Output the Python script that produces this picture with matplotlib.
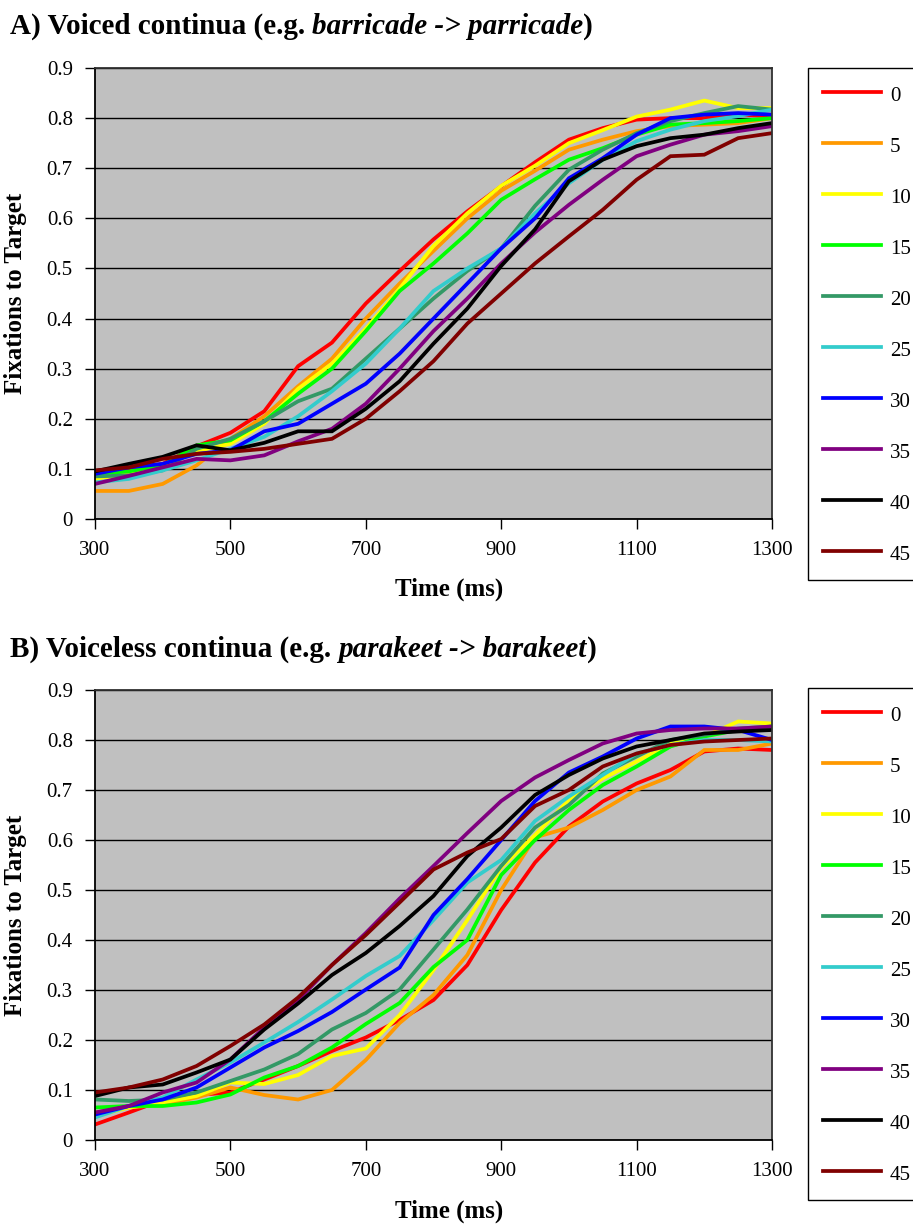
import matplotlib
matplotlib.use("Agg")
import matplotlib.pyplot as plt
from matplotlib.lines import Line2D

# ---------------- data ----------------
time_ms = [300, 350, 400, 450, 500, 550, 600, 650, 700, 750, 800,
           850, 900, 950, 1000, 1050, 1100, 1150, 1200, 1250, 1300]
series_labels = ["0", "5", "10", "15", "20", "25", "30", "35", "40", "45"]
x_ticks = [300, 500, 700, 900, 1100, 1300]
y_ticks = [0, 0.1, 0.2, 0.3, 0.4, 0.5, 0.6, 0.7, 0.8, 0.9]
y_tick_labels = ["0", "0.1", "0.2", "0.3", "0.4", "0.5", "0.6", "0.7", "0.8", "0.9"]

# Panel A: voiced continua
a_vot0 = [0.09, 0.10, 0.11, 0.145, 0.172, 0.215, 0.305, 0.352, 0.43, 0.495, 0.558,
          0.614, 0.664, 0.712, 0.757, 0.78, 0.797, 0.80, 0.80, 0.807, 0.804]
a_vot5 = [0.056, 0.056, 0.07, 0.107, 0.16, 0.205, 0.265, 0.32, 0.40, 0.47, 0.535,
          0.60, 0.655, 0.695, 0.737, 0.757, 0.774, 0.784, 0.787, 0.79, 0.80]
a_vot10 = [0.08, 0.09, 0.105, 0.135, 0.15, 0.19, 0.26, 0.31, 0.38, 0.46, 0.545,
           0.61, 0.665, 0.705, 0.75, 0.776, 0.803, 0.817, 0.835, 0.82, 0.82]
a_vot15 = [0.09, 0.095, 0.107, 0.147, 0.157, 0.195, 0.25, 0.30, 0.375, 0.455, 0.51,
           0.57, 0.637, 0.678, 0.717, 0.74, 0.767, 0.787, 0.79, 0.794, 0.80]
a_vot20 = [0.085, 0.087, 0.097, 0.14, 0.16, 0.195, 0.235, 0.26, 0.32, 0.38, 0.44,
           0.495, 0.54, 0.625, 0.697, 0.737, 0.77, 0.794, 0.81, 0.824, 0.817]
a_vot25 = [0.073, 0.08, 0.097, 0.117, 0.14, 0.164, 0.205, 0.255, 0.31, 0.38, 0.455,
           0.50, 0.54, 0.61, 0.67, 0.717, 0.754, 0.777, 0.794, 0.804, 0.817]
a_vot30 = [0.09, 0.103, 0.11, 0.13, 0.137, 0.175, 0.19, 0.23, 0.27, 0.33, 0.40,
           0.47, 0.54, 0.60, 0.68, 0.72, 0.767, 0.80, 0.807, 0.81, 0.807]
a_vot35 = [0.07, 0.086, 0.103, 0.12, 0.117, 0.127, 0.155, 0.18, 0.23, 0.30, 0.375,
           0.44, 0.51, 0.572, 0.627, 0.677, 0.724, 0.747, 0.767, 0.774, 0.784]
a_vot40 = [0.095, 0.11, 0.124, 0.147, 0.137, 0.152, 0.175, 0.175, 0.22, 0.275, 0.35,
           0.42, 0.505, 0.578, 0.674, 0.717, 0.744, 0.76, 0.767, 0.78, 0.79]
a_vot45 = [0.097, 0.103, 0.12, 0.13, 0.134, 0.14, 0.15, 0.16, 0.20, 0.255, 0.315,
           0.39, 0.45, 0.51, 0.564, 0.617, 0.677, 0.724, 0.727, 0.76, 0.77]

# Panel B: voiceless continua
b_vot0 = [0.031, 0.055, 0.08, 0.09, 0.095, 0.121, 0.148, 0.178, 0.205, 0.24, 0.28,
          0.35, 0.46, 0.555, 0.627, 0.677, 0.713, 0.74, 0.777, 0.783, 0.78]
b_vot5 = [0.055, 0.065, 0.071, 0.085, 0.105, 0.09, 0.081, 0.10, 0.16, 0.234, 0.29,
          0.37, 0.50, 0.605, 0.625, 0.66, 0.70, 0.727, 0.78, 0.78, 0.793]
b_vot10 = [0.048, 0.065, 0.075, 0.088, 0.115, 0.112, 0.13, 0.168, 0.183, 0.25, 0.34,
           0.44, 0.545, 0.61, 0.68, 0.723, 0.757, 0.793, 0.807, 0.837, 0.833]
b_vot15 = [0.065, 0.068, 0.068, 0.075, 0.091, 0.125, 0.148, 0.185, 0.232, 0.274, 0.346,
           0.40, 0.53, 0.60, 0.66, 0.71, 0.747, 0.787, 0.807, 0.82, 0.827]
b_vot20 = [0.081, 0.078, 0.081, 0.095, 0.118, 0.141, 0.172, 0.221, 0.254, 0.301, 0.381,
           0.461, 0.548, 0.625, 0.67, 0.733, 0.767, 0.80, 0.81, 0.823, 0.827]
b_vot25 = [0.045, 0.068, 0.085, 0.121, 0.155, 0.195, 0.236, 0.281, 0.328, 0.368, 0.44,
           0.515, 0.56, 0.638, 0.687, 0.73, 0.773, 0.79, 0.80, 0.80, 0.797]
b_vot30 = [0.051, 0.068, 0.081, 0.105, 0.145, 0.185, 0.218, 0.256, 0.301, 0.345, 0.45,
           0.522, 0.60, 0.678, 0.735, 0.767, 0.803, 0.827, 0.827, 0.82, 0.80]
b_vot35 = [0.055, 0.068, 0.095, 0.115, 0.161, 0.225, 0.28, 0.35, 0.414, 0.483, 0.548,
           0.614, 0.678, 0.725, 0.76, 0.793, 0.813, 0.82, 0.823, 0.823, 0.827]
b_vot40 = [0.088, 0.105, 0.111, 0.135, 0.161, 0.221, 0.273, 0.33, 0.374, 0.428, 0.488,
           0.568, 0.625, 0.69, 0.73, 0.763, 0.787, 0.80, 0.813, 0.817, 0.82]
b_vot45 = [0.095, 0.105, 0.121, 0.148, 0.188, 0.231, 0.285, 0.35, 0.41, 0.475, 0.541,
           0.575, 0.602, 0.668, 0.70, 0.747, 0.773, 0.79, 0.797, 0.80, 0.803]

panel_a = [a_vot0, a_vot5, a_vot10, a_vot15, a_vot20, a_vot25, a_vot30, a_vot35, a_vot40, a_vot45]
panel_b = [b_vot0, b_vot5, b_vot10, b_vot15, b_vot20, b_vot25, b_vot30, b_vot35, b_vot40, b_vot45]

# ---------------- style ----------------
colors = ["#FF0000", "#FF9900", "#FFFF00", "#00FF00", "#339966",
          "#33CCCC", "#0000FF", "#800080", "#000000", "#800000"]
SERIF = ["Liberation Serif", "DejaVu Serif"]
LW = 2.7
W, H = 913, 1227
fig = plt.figure(figsize=(W / 100, H / 100), dpi=100)
fig.patch.set_facecolor("white")


def px_box(left, top, right, bottom):
    return [left / W, 1 - bottom / H, (right - left) / W, (bottom - top) / H]


def draw_title(y_base, parts, size=21):
    renderer = fig.canvas.get_renderer()
    x = 10.0
    probe = fig.text(0, 0, "a a", fontsize=size, fontweight="bold", family=SERIF)
    w_aa = probe.get_window_extent(renderer).width
    probe.set_text("aa")
    w_a2 = probe.get_window_extent(renderer).width
    probe.remove()
    sp = w_aa - w_a2
    for text, style, trailing in parts:
        t = fig.text(x / W, 1 - y_base / H, text, fontsize=size, fontweight="bold",
                     fontstyle=style, family=SERIF, va="baseline", ha="left")
        x += t.get_window_extent(renderer).width + (sp if trailing else 0)


def draw_panel(box, data, legend_top, xlabel_y):
    ax = fig.add_axes(px_box(*box))
    ax.set_facecolor("#C0C0C0")
    for vals, col, lab in zip(data, colors, series_labels):
        ax.plot(time_ms, vals, color=col, lw=LW, label=lab, solid_joinstyle="miter")
    ax.set_xlim(300, 1300)
    ax.set_ylim(0, 0.9)
    ax.set_xticks(x_ticks)
    ax.set_yticks(y_ticks)
    ax.set_yticklabels(y_tick_labels)
    ax.set_axisbelow(True)
    ax.yaxis.grid(True, color="black", lw=1.0)
    ax.xaxis.grid(False)
    for side in ["left", "bottom"]:
        ax.spines[side].set_color("black")
        ax.spines[side].set_linewidth(1.3)
    for side in ["top", "right"]:
        ax.spines[side].set_color("#303030")
        ax.spines[side].set_linewidth(1.3)
    ax.tick_params(axis="both", direction="out", length=7, width=1.0, color="black",
                   labelsize=15, pad=9)
    for lbl in ax.get_xticklabels() + ax.get_yticklabels():
        lbl.set_family(SERIF)
    ycen = (box[1] + box[3]) / 2
    fig.text(16 / W, 1 - ycen / H, "Fixations to Target", rotation=90, fontsize=18,
             fontweight="bold", family=SERIF, ha="center", va="center")
    fig.text(449 / W, 1 - xlabel_y / H, "Time (ms)", fontsize=18,
             fontweight="bold", family=SERIF, ha="center", va="center")
    handles = [Line2D([], [], color=c, lw=LW) for c in colors]
    leg = ax.legend(handles, series_labels, loc="upper left",
                    bbox_to_anchor=(808 / W, 1 - legend_top / H),
                    bbox_transform=fig.transFigure, borderaxespad=0,
                    prop={"family": SERIF, "size": 15}, frameon=True,
                    fancybox=False, framealpha=1, edgecolor="black",
                    borderpad=0.73, labelspacing=1.34, handlelength=2.75,
                    handleheight=1.25, handletextpad=0.45)
    leg.get_frame().set_linewidth(1.0)
    return ax


draw_panel((95, 68, 772, 519), panel_a, 68, 589)
draw_panel((95, 690, 772, 1140), panel_b, 688, 1211)

draw_title(34, [("A) Voiced continua (e.g.", "normal", True),
                ("barricade -> parricade", "italic", False),
                (")", "normal", False)])
draw_title(657, [("B) Voiceless continua (e.g.", "normal", True),
                 ("parakeet -> barakeet", "italic", False),
                 (")", "normal", False)])

fig.savefig("out.png", dpi=100, facecolor="white")
